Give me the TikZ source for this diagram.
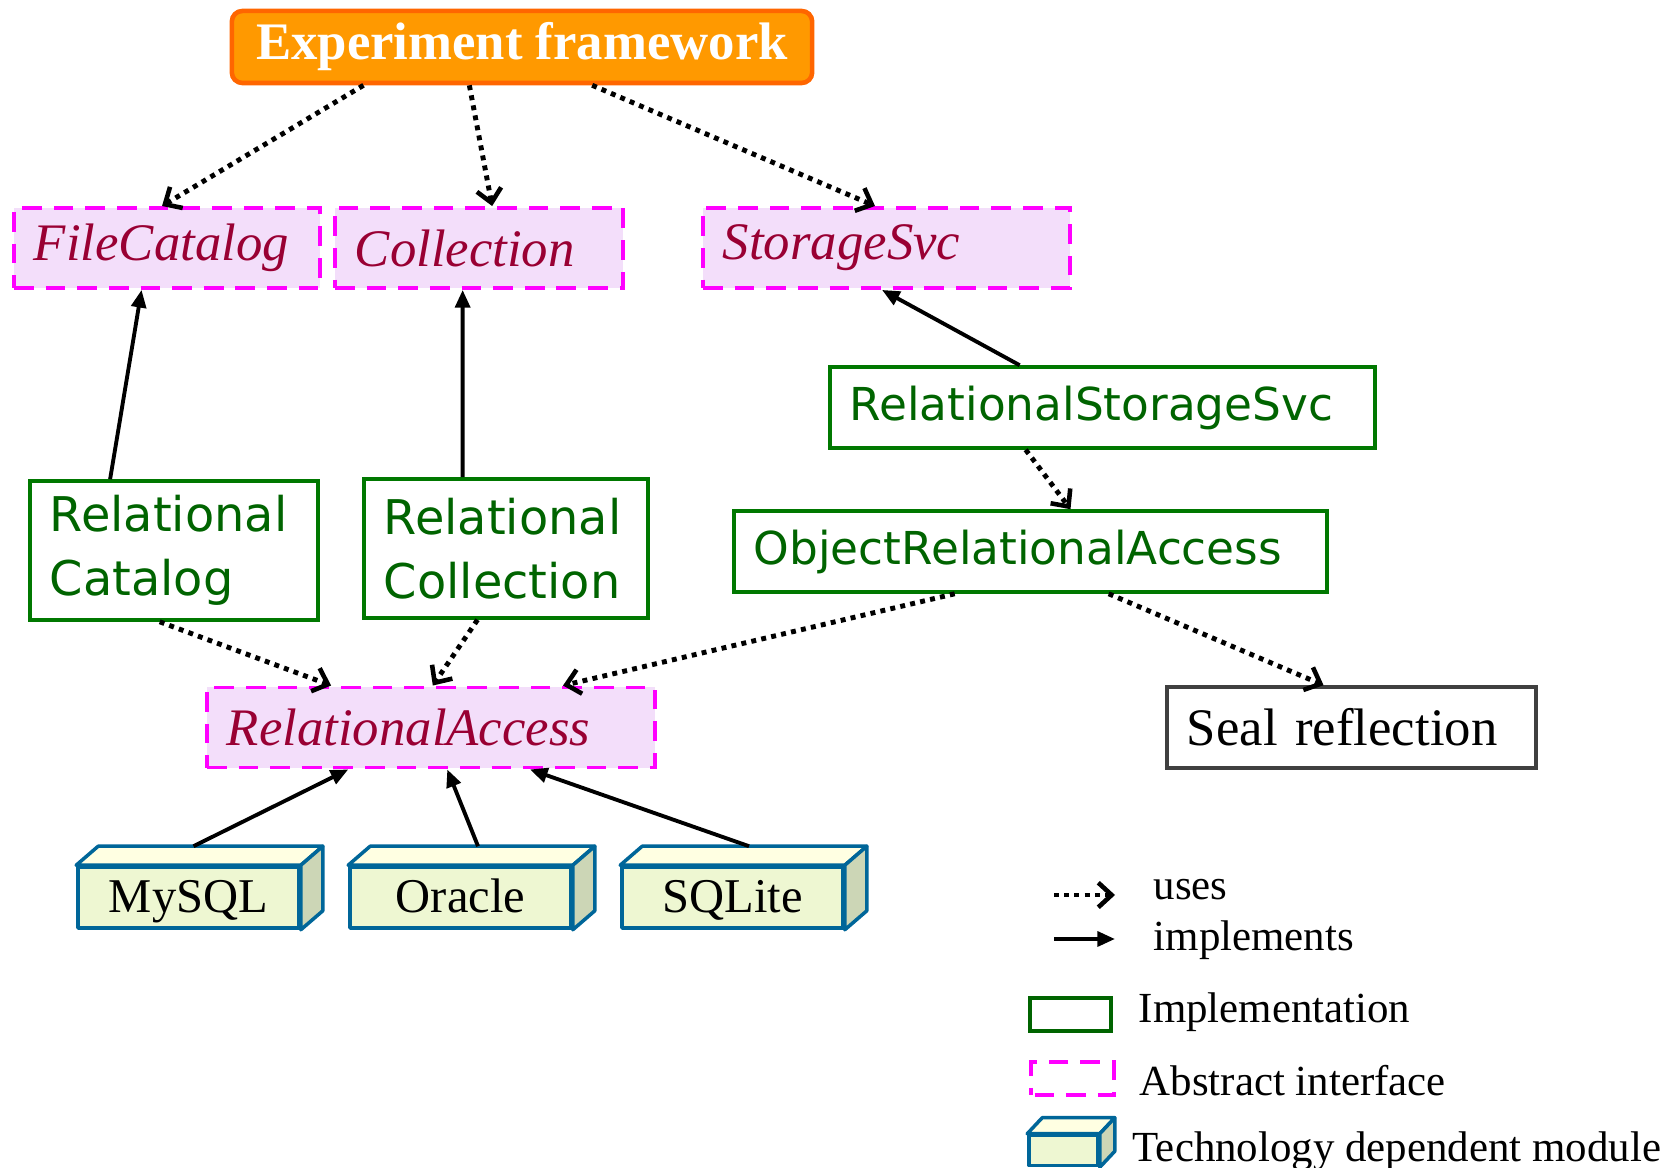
\documentclass[tikz,border=0pt]{standalone}
\usepackage{fontspec}
\setmainfont{Liberation Serif}
\newfontfamily\comicfont{DejaVu Sans}
\usetikzlibrary{arrows.meta,calc}

\definecolor{efFill}{RGB}{255,153,0}
\definecolor{efLine}{RGB}{255,102,0}
\definecolor{ifLine}{RGB}{255,0,255}
\definecolor{ifFill}{RGB}{243,222,250}
\definecolor{ifText}{RGB}{153,0,51}
\definecolor{imLine}{RGB}{0,120,0}
\definecolor{imText}{RGB}{0,100,0}
\definecolor{tdLine}{RGB}{0,102,153}
\definecolor{tdFront}{RGB}{238,247,210}
\definecolor{tdTop}{RGB}{255,255,226}
\definecolor{tdSide}{RGB}{204,214,182}
\definecolor{sealLine}{RGB}{64,64,64}

\begin{document}
\begin{tikzpicture}
  [
    x=0.01cm, y=-0.01cm,
    framework/.style={draw=efLine, fill=efFill, line width=1.3pt, rounded corners=3pt,
      minimum width=5.8cm, minimum height=0.72cm, text=white,
      font=\fontsize{15}{18}\selectfont\bfseries},
    iface/.style={draw=ifLine, fill=ifFill, line width=1.1pt, dash pattern=on 5.6pt off 3.4pt,
      inner xsep=0.2cm, minimum height=0.8cm, align=left, text=ifText,
      font=\fontsize{15}{18}\selectfont\itshape},
    impl/.style={draw=imLine, line width=1pt, inner xsep=0.2cm, minimum height=0.81cm,
      align=left, text=imText, font=\comicfont\fontsize{12.9}{18}\selectfont},
    implbig/.style={impl, minimum height=1.39cm, font=\comicfont\fontsize{13.6}{18.2}\selectfont},
    seal/.style={draw=sealLine, line width=1pt, inner xsep=0.2cm, minimum height=0.81cm,
      align=left, font=\fontsize{15}{18}\selectfont},
    tech/.style={draw=tdLine, fill=tdFront, line width=1pt, line join=round,
      minimum width=2.21cm, minimum height=0.61cm, inner ysep=0pt,
      text height=11.8pt, text depth=3pt, font=\fontsize{13.8}{16}\selectfont},
    techface/.style={draw=tdLine, line width=1pt, line join=round},
    uses/.style={line width=1.4pt, dash pattern=on 1.4pt off 1.5pt,
      -{Straight Barb[length=3.8pt,width=7pt,line width=1.3pt]}},
    impls/.style={line width=1.1pt, -{Triangle[length=5pt,width=4.2pt]}},
    legend/.style={font=\fontsize{12.2}{14}\selectfont, inner sep=0pt}
  ]

  \useasboundingbox (0,0) rectangle (1670,1168);

  \node (ef)     at ( 522, 47)   [framework] {Experiment framework};

  \node (fcat)   at ( 167, 248)  [iface, text width=2.66cm] {FileCatalog};
  \node (coll)   at ( 479, 248)  [iface, text width=2.48cm] {Collection};
  \node (ssvc)   at ( 886.5, 248)  [iface, text width=3.27cm] {StorageSvc};

  \node (rssvc)  at (1102.5, 407.5) [impl, text width=5.05cm] {RelationalStorageSvc};
  \node (rcat)   at ( 174, 550.5) [implbig, text width=2.48cm] {Relational\\Catalog};
  \node (rcoll)  at ( 506, 548.5) [implbig, text width=2.44cm] {Relational\\Collection};
  \node (ora)    at (1030.5, 551.5) [impl, text width=5.53cm] {ObjectRelationalAccess};

  \node (racc)   at ( 431, 727.5) [iface, text width=4.08cm] {RelationalAccess};
  \node (seal)   at (1351.5, 727.5) [seal, text width=3.29cm] {Seal reflection};

  \node (mysql)  at ( 188.5, 897.5) [tech] {MySQL};
  \node (oracle) at ( 460.5, 897.5) [tech] {Oracle};
  \node (sqlite) at ( 732.5, 897.5) [tech] {SQLite};

  % legend
  \coordinate (usesA) at (1054, 895);
  \coordinate (usesB) at (1115, 895);
  \coordinate (implA) at (1054, 939);
  \coordinate (implB) at (1115, 939);
  \node (lUses)  at (1153, 900)  [legend, anchor=base west] {uses};
  \node (lImpls) at (1153, 951)  [legend, anchor=base west] {implements};
  \node (legImpl) at (1070.5, 1014.5) [draw=imText, line width=1.1pt, minimum width=0.81cm, minimum height=0.33cm, inner sep=0pt] {};
  \node (lImpl)  at (1138, 1022) [legend, anchor=base west] {Implementation};
  \node (legIf)  at (1072.5, 1078.5) [draw=ifLine, line width=1.1pt, dash pattern=on 5.6pt off 3.4pt, dash phase=-1pt, minimum width=0.83cm, minimum height=0.33cm, inner sep=0pt] {};
  \node (lIf)    at (1139, 1095) [legend, anchor=base west] {Abstract interface};
  \node (legTech) at (1063.5, 1150.5) [tech, minimum width=0.69cm, minimum height=0.3cm, text height=0pt, text depth=0pt, inner sep=0pt] {};
  \node (lTech)  at (1132, 1161) [legend, anchor=base west] {Technology dependent module};

  % top and side faces of the modules
  \foreach \n/\dx/\dy in {mysql/0.22/0.19, oracle/0.22/0.19, sqlite/0.22/0.19, legTech/0.15/0.16}
  {
    \draw [techface, fill=tdTop] (\n.north west) -- ++(\dx cm,\dy cm)
      -- ([xshift=\dx cm, yshift=\dy cm]\n.north east) -- (\n.north east) -- cycle;
    \draw [techface, fill=tdSide] (\n.north east) -- ++(\dx cm,\dy cm)
      -- ([xshift=\dx cm, yshift=\dy cm]\n.south east) -- (\n.south east) -- cycle;
  }

  \draw [uses] ($(ef.south west)!0.229!(ef.south east)$) -- ($(fcat.north west)!0.484!(fcat.north east)$);
  \draw [uses] ($(ef.south west)!0.41!(ef.south east)$) -- ($(coll.north west)!0.545!(coll.north east)$);
  \draw [uses] ($(ef.south west)!0.62!(ef.south east)$) -- ($(ssvc.north west)!0.469!(ssvc.north east)$);

  \draw [impls] ($(rcat.north west)!0.281!(rcat.north east)$) -- ($(fcat.south west)!0.418!(fcat.south east)$);
  \draw [impls] ($(rcoll.north west)!0.349!(rcoll.north east)$) -- ($(coll.south west)!0.444!(coll.south east)$);
  \draw [impls] ($(rssvc.north west)!0.349!(rssvc.north east)$) -- ($(ssvc.south west)!0.488!(ssvc.south east)$);

  \draw [uses] ($(rssvc.south west)!0.36!(rssvc.south east)$) -- ($(ora.north west)!0.567!(ora.north east)$);
  \draw [uses] ($(rcat.south west)!0.451!(rcat.south east)$) -- ($(racc.north west)!0.279!(racc.north east)$);
  \draw [uses] ($(rcoll.south west)!0.401!(rcoll.south east)$) -- ($(racc.north west)!0.504!(racc.north east)$);
  \draw [uses] ($(ora.south west)!0.373!(ora.south east)$) -- ($(racc.north west)!0.792!(racc.north east)$);
  \draw [uses] ($(ora.south west)!0.631!(ora.south east)$) -- ($(seal.north west)!0.425!(seal.north east)$);

  \draw [impls] ([xshift=0.05cm, yshift=0.19cm]mysql.north) -- ($(racc.south west)!0.317!(racc.south east)$);
  \draw [impls] ([xshift=0.175cm, yshift=0.19cm]oracle.north) -- ($(racc.south west)!0.536!(racc.south east)$);
  \draw [impls] ([xshift=0.165cm, yshift=0.19cm]sqlite.north) -- ($(racc.south west)!0.719!(racc.south east)$);

  \draw [uses] (usesA) -- (usesB);
  \draw [impls] (implA) -- (implB);
\end{tikzpicture}
\end{document}
